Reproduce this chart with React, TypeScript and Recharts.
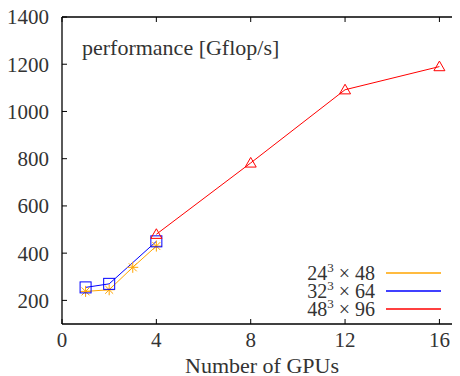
import React from 'react';
import { LineChart, Line, XAxis, YAxis } from 'recharts';

const gpus24 = [1, 2, 3, 4];
const perf24 = [238, 245, 340, 430];
const gpus32 = [1, 2, 4];
const perf32 = [255, 270, 450];
const gpus48 = [4, 8, 12, 16];
const perf48 = [480, 782, 1092, 1190];
const xTicks = [0, 4, 8, 12, 16];
const yTicks = [200, 400, 600, 800, 1000, 1200, 1400];
const seriesLabels = ['24', '32', '48'];
const seriesSuffix = ['48', '64', '96'];

const ORANGE = '#FFA500';
const BLUE = '#0000FF';
const RED = '#FF0000';
const FONT = '"Liberation Serif", "Times New Roman", "DejaVu Serif", serif';

const zip = (xs: number[], ys: number[]) => xs.map((x, i) => ({ x, y: ys[i] }));
const d24 = zip(gpus24, perf24);
const d32 = zip(gpus32, perf32);
const d48 = zip(gpus48, perf48);

const Star = (props: any) => {
  const { cx, cy } = props;
  if (cx == null || cy == null) return null;
  const r = 5.5;
  const d = r * 0.72;
  return (
    <g stroke={ORANGE} strokeWidth={1} fill="none">
      <line x1={cx - r} y1={cy} x2={cx + r} y2={cy} />
      <line x1={cx} y1={cy - r} x2={cx} y2={cy + r} />
      <line x1={cx - d} y1={cy - d} x2={cx + d} y2={cy + d} />
      <line x1={cx - d} y1={cy + d} x2={cx + d} y2={cy - d} />
    </g>
  );
};

const Square = (props: any) => {
  const { cx, cy } = props;
  if (cx == null || cy == null) return null;
  const h = 5.5;
  return <rect x={cx - h} y={cy - h} width={2 * h} height={2 * h} fill="none" stroke={BLUE} strokeWidth={1} />;
};

const Tri = (props: any) => {
  const { cx, cy } = props;
  if (cx == null || cy == null) return null;
  const h = 5.5;
  return (
    <polygon
      points={`${cx},${cy - h} ${cx - h},${cy + h * 0.75} ${cx + h},${cy + h * 0.75}`}
      fill="none"
      stroke={RED}
      strokeWidth={1}
    />
  );
};

const tickStyle = { fontFamily: FONT, fontSize: 21, fill: '#333' };
const blank = () => '';

export default function App() {
  const colors = [ORANGE, BLUE, RED];
  return (
    <div style={{ position: 'relative', width: 460, height: 376, margin: '-8px 0 0 -8px', overflow: 'hidden', background: '#fff' }}>
      <LineChart width={464} height={376} margin={{ top: 16, right: 0, bottom: 0, left: 0 }}>
        <XAxis
          xAxisId="b"
          dataKey="x"
          type="number"
          domain={[0, 17]}
          ticks={xTicks}
          orientation="bottom"
          height={52}
          tickSize={-5}
          tickMargin={13}
          tick={tickStyle}
          axisLine={{ stroke: '#000', strokeWidth: 1.3 }}
          tickLine={{ stroke: '#000' }}
          allowDataOverflow
        />
        <XAxis
          xAxisId="t"
          dataKey="x"
          type="number"
          domain={[0, 17]}
          ticks={xTicks}
          orientation="top"
          height={1}
          tickSize={-5}
          tickFormatter={blank}
          axisLine={{ stroke: '#000', strokeWidth: 1.3 }}
          tickLine={{ stroke: '#000' }}
          allowDataOverflow
        />
        <YAxis
          yAxisId="l"
          type="number"
          domain={[100, 1400]}
          ticks={yTicks}
          orientation="left"
          width={62}
          tickSize={-5}
          tickMargin={18}
          tick={tickStyle}
          axisLine={{ stroke: '#000', strokeWidth: 1.3 }}
          tickLine={{ stroke: '#000' }}
          allowDataOverflow
        />
        <YAxis
          yAxisId="r"
          type="number"
          domain={[100, 1400]}
          ticks={yTicks}
          orientation="right"
          width={1}
          tickSize={-5}
          tickFormatter={blank}
          axisLine={{ stroke: '#000', strokeWidth: 1.3 }}
          tickLine={{ stroke: '#000' }}
          allowDataOverflow
        />
        <Line data={d24} xAxisId="b" yAxisId="l" dataKey="y" stroke={ORANGE} strokeWidth={1} dot={<Star />} activeDot={false} isAnimationActive={false} />
        <Line data={d32} xAxisId="b" yAxisId="l" dataKey="y" stroke={BLUE} strokeWidth={1} dot={<Square />} activeDot={false} isAnimationActive={false} />
        <Line data={d48} xAxisId="b" yAxisId="l" dataKey="y" stroke={RED} strokeWidth={1} dot={<Tri />} activeDot={false} isAnimationActive={false} />
      </LineChart>
      <div style={{ position: 'absolute', left: 82, top: 35, fontFamily: FONT, fontSize: 22, color: '#333', whiteSpace: 'nowrap', lineHeight: '26px' }}>
        performance [Gflop/s]
      </div>
      <div style={{ position: 'absolute', left: 262, top: 355, transform: 'translateX(-50%)', fontFamily: FONT, fontSize: 22, color: '#333', lineHeight: '22px', whiteSpace: 'nowrap' }}>
        Number of GPUs
      </div>
      {seriesLabels.map((s, i) => (
        <div key={s} style={{ position: 'absolute', right: 85, top: 264 + i * 18, fontFamily: FONT, fontSize: 20, color: '#333', lineHeight: '18px', height: 18, whiteSpace: 'nowrap', textAlign: 'right' }}>
          {s}<span style={{ fontSize: 13, lineHeight: 0, position: 'relative', top: -8 }}>3</span>
          <span style={{ margin: '0 5px' }}>×</span>{seriesSuffix[i]}
        </div>
      ))}
      <svg width={60} height={60} style={{ position: 'absolute', left: 384, top: 262 }}>
        {colors.map((c, i) => (
          <line key={i} x1={2} x2={57} y1={11 + i * 18} y2={11 + i * 18} stroke={c} strokeWidth={1.3} />
        ))}
      </svg>
    </div>
  );
}
